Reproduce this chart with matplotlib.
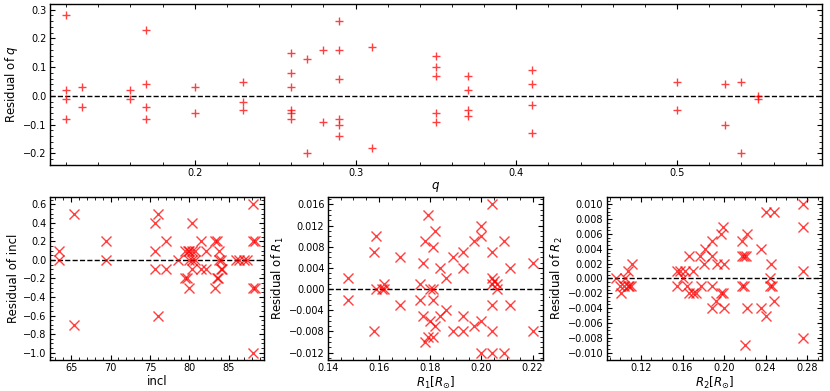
import matplotlib
matplotlib.use("Agg")
import matplotlib.pyplot as plt
from matplotlib.ticker import AutoMinorLocator, MultipleLocator

# --- residuals of mass ratio q ---
q_val = [0.12, 0.12, 0.12, 0.12, 0.13, 0.13, 0.16, 0.16, 0.17, 0.17, 0.17, 0.17,
         0.20, 0.20, 0.23, 0.23, 0.23, 0.26, 0.26, 0.26, 0.26, 0.26, 0.26,
         0.27, 0.27, 0.28, 0.28, 0.29, 0.29, 0.29, 0.29, 0.29, 0.29, 0.31, 0.31,
         0.35, 0.35, 0.35, 0.35, 0.35, 0.37, 0.37, 0.37, 0.37,
         0.41, 0.41, 0.41, 0.41, 0.50, 0.50, 0.53, 0.53, 0.54, 0.54, 0.55, 0.55]
q_res = [0.28, 0.02, -0.01, -0.08, 0.03, -0.04, 0.02, -0.01, 0.23, 0.04, -0.04, -0.08,
         0.03, -0.06, 0.05, -0.02, -0.05, 0.15, 0.08, 0.03, -0.05, -0.06, -0.08,
         0.13, -0.20, 0.16, -0.09, 0.26, 0.16, 0.06, -0.08, -0.10, -0.14, 0.17, -0.18,
         0.14, 0.10, 0.07, -0.06, -0.09, 0.07, 0.02, -0.05, -0.07,
         0.09, 0.04, -0.03, -0.13, 0.05, -0.05, 0.04, -0.10, 0.05, -0.20, 0.00, -0.01]

# --- residuals of inclination ---
incl_val = [63.5, 63.5, 65.4, 65.4, 69.4, 69.4, 75.6, 75.6, 75.6, 76.0, 76.0,
            77.1, 77.1, 78.6, 79.5, 79.5, 79.7, 79.8, 80.0, 80.0, 80.0,
            80.3, 80.3, 80.3, 80.4, 80.7, 80.7, 81.5, 81.5, 82.1, 82.1,
            83.2, 83.2, 83.5, 83.5, 83.7, 83.8, 83.8, 84.0, 84.0, 84.2,
            85.9, 86.3, 87.0, 87.3, 88.1, 88.1, 88.1, 88.1, 88.3, 88.3]
incl_res = [0.1, 0.0, 0.5, -0.7, 0.2, 0.0, 0.4, 0.1, -0.1, 0.5, -0.6,
            0.2, -0.1, 0.0, 0.1, -0.2, -0.2, 0.1, 0.0, -0.3, 0.1,
            0.1, 0.0, -0.1, 0.4, 0.1, 0.0, 0.2, -0.1, 0.1, -0.1,
            0.2, -0.3, 0.2, -0.2, -0.2, 0.1, 0.0, -0.1, 0.0, -0.1,
            0.0, 0.0, 0.0, 0.0, 0.6, 0.2, -0.3, -1.0, 0.2, -0.3]

# --- residuals of R1 ---
r1_val = [0.148, 0.148, 0.158, 0.159, 0.159, 0.158, 0.161, 0.162, 0.162, 0.168, 0.168,
          0.176, 0.176, 0.177, 0.177, 0.178, 0.179, 0.178, 0.179, 0.180, 0.180,
          0.181, 0.181, 0.181, 0.181, 0.182, 0.182, 0.184, 0.184, 0.186, 0.186,
          0.189, 0.189, 0.193, 0.193, 0.193, 0.193, 0.197, 0.197,
          0.200, 0.200, 0.200, 0.200, 0.204, 0.204, 0.204, 0.204, 0.205, 0.206, 0.206,
          0.204, 0.204, 0.204, 0.209, 0.209, 0.211, 0.211, 0.220, 0.220]
r1_res = [0.002, -0.002, 0.007, 0.010, 0.000, -0.008, 0.000, 0.001, 0.000, 0.006, -0.003,
          0.001, -0.002, 0.005, -0.005, 0.009, 0.014, -0.010, -0.009, 0.000, -0.006,
          -0.009, 0.000, 0.008, -0.002, 0.011, -0.007, 0.004, -0.005, 0.002, -0.004,
          0.006, -0.008, 0.007, 0.004, -0.005, -0.008, 0.009, -0.007,
          0.012, 0.010, -0.006, -0.012, 0.016, 0.007, 0.002, 0.001, 0.0015, 0.001, 0.000,
          -0.003, -0.008, -0.012, 0.009, -0.012, 0.004, -0.003, 0.005, -0.008]

# --- residuals of R2 ---
r2_val = [0.096, 0.100, 0.101, 0.104, 0.105, 0.107, 0.107, 0.108, 0.110, 0.111,
          0.155, 0.155, 0.158, 0.160, 0.162, 0.164, 0.166, 0.166, 0.170, 0.170, 0.173,
          0.177, 0.178, 0.181, 0.182, 0.188, 0.188, 0.188, 0.188, 0.192, 0.193,
          0.197, 0.199, 0.197, 0.199, 0.200, 0.200,
          0.217, 0.217, 0.217, 0.219, 0.219, 0.220, 0.221, 0.222, 0.222,
          0.236, 0.236, 0.240, 0.240, 0.245, 0.244, 0.244, 0.246, 0.248, 0.248,
          0.276, 0.276, 0.276, 0.276]
r2_res = [0.000, -0.001, -0.002, -0.001, 0.000, 0.001, -0.001, -0.001, -0.001, 0.002,
          0.001, -0.001, 0.001, 0.000, 0.001, -0.001, 0.003, -0.002, 0.001, -0.002, -0.002,
          0.003, -0.001, 0.002, 0.004, 0.005, 0.003, -0.001, -0.004, -0.003, 0.002,
          0.006, 0.007, -0.002, -0.002, 0.002, -0.004,
          0.005, 0.003, -0.001, 0.003, -0.001, -0.009, 0.003, 0.006, -0.004,
          0.004, -0.004, -0.005, 0.009, 0.002, 0.000, -0.001, -0.001, 0.009, -0.003,
          0.010, 0.007, 0.001, -0.008]

plt.rcParams["xtick.direction"] = "in"
plt.rcParams["ytick.direction"] = "in"
plt.rcParams["xtick.top"] = True
plt.rcParams["ytick.right"] = True
plt.rcParams["xtick.labelsize"] = 7
plt.rcParams["ytick.labelsize"] = 7
plt.rcParams["axes.labelsize"] = 8.5
plt.rcParams["axes.linewidth"] = 1.0

fig = plt.figure(figsize=(8.3, 3.91), dpi=100)
ax_q = fig.add_axes([0.0602, 0.578, 0.930, 0.412])
ax_i = fig.add_axes([0.0602, 0.0793, 0.258, 0.417])
ax_r1 = fig.add_axes([0.395, 0.0793, 0.259, 0.417])
ax_r2 = fig.add_axes([0.731, 0.0793, 0.259, 0.417])


def style(ax):
    ax.axhline(0, color="k", linestyle="--", linewidth=1.0, zorder=1)
    ax.xaxis.set_minor_locator(AutoMinorLocator())
    ax.yaxis.set_minor_locator(AutoMinorLocator())
    ax.tick_params(which="major", length=3.5, width=0.8, pad=2.5)
    ax.tick_params(which="minor", length=2, width=0.6)


ax_q.plot(q_val, q_res, "+", color="red", alpha=0.75, ms=6, mew=1.0)
ax_q.set_xlim(0.11, 0.59)
ax_q.set_ylim(-0.24, 0.32)
ax_q.xaxis.set_major_locator(MultipleLocator(0.1))
ax_q.set_xlabel("$q$", labelpad=1)
ax_q.set_ylabel("Residual of $q$", labelpad=2)
style(ax_q)

ax_i.plot(incl_val, incl_res, "x", color="red", alpha=0.75, ms=7, mew=1.0)
ax_i.set_xlim(62.3, 89.5)
ax_i.set_ylim(-1.08, 0.68)
ax_i.xaxis.set_major_locator(MultipleLocator(5))
ax_i.yaxis.set_major_locator(MultipleLocator(0.2))
ax_i.set_xlabel("incl", labelpad=1)
ax_i.set_ylabel("Residual of incl", labelpad=2)
style(ax_i)

ax_r1.plot(r1_val, r1_res, "x", color="red", alpha=0.75, ms=7, mew=1.0)
ax_r1.set_xlim(0.140, 0.224)
ax_r1.set_ylim(-0.0134, 0.0174)
ax_r1.xaxis.set_major_locator(MultipleLocator(0.02))
ax_r1.yaxis.set_major_locator(MultipleLocator(0.004))
ax_r1.set_xlabel(r"$R_1[R_{\odot}]$", labelpad=1)
ax_r1.set_ylabel("Residual of $R_1$", labelpad=2)
style(ax_r1)

ax_r2.plot(r2_val, r2_res, "x", color="red", alpha=0.75, ms=7, mew=1.0)
ax_r2.set_xlim(0.087, 0.294)
ax_r2.set_ylim(-0.011, 0.011)
ax_r2.xaxis.set_major_locator(MultipleLocator(0.04))
ax_r2.yaxis.set_major_locator(MultipleLocator(0.002))
ax_r2.set_xlabel(r"$R_2[R_{\odot}]$", labelpad=1)
ax_r2.set_ylabel("Residual of $R_2$", labelpad=2)
style(ax_r2)

fig.savefig("out.png", dpi=100)
